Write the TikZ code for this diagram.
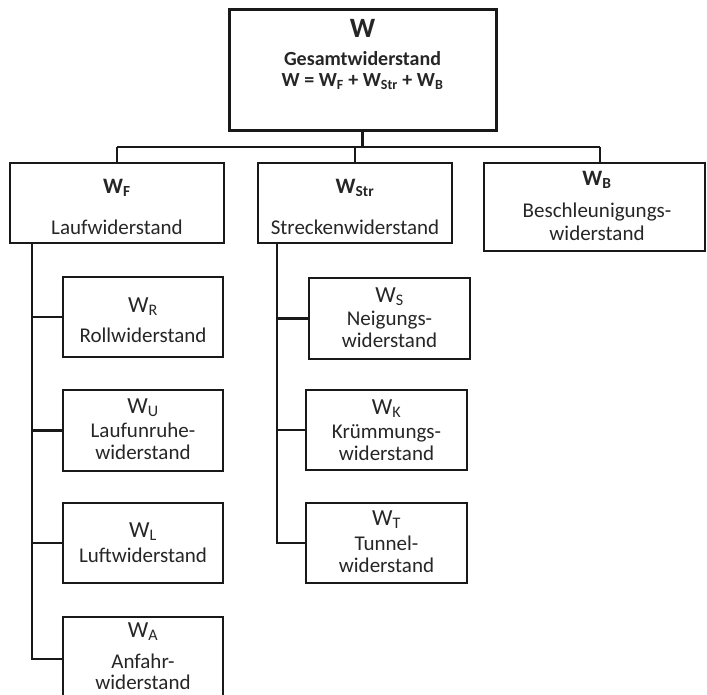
\documentclass[tikz,border=0pt]{standalone}
\usepackage{fontspec}
\setmainfont{Carlito}
\newcommand{\sbs}[1]{\textsubscript{#1}}
\begin{document}
\begin{tikzpicture}[x=1pt,y=-1pt,
  box/.style={draw=black!90, line width=2.6pt, inner sep=0pt, outer sep=0pt, fill=white},
  topbox/.style={box, line width=3pt},
  conn/.style={draw=black!90, line width=2.4pt},
  txt/.style={anchor=base, inner sep=0pt, text=black!85, font=\fontsize{21}{24}\selectfont},
  btxt/.style={txt, font=\fontsize{20}{24}\selectfont\bfseries},
  wtxt/.style={txt, font=\fontsize{23}{24}\selectfont},
  bwtxt/.style={txt, font=\fontsize{22}{24}\selectfont\bfseries}]
\useasboundingbox (0,0) rectangle (707,694);
\clip (0,0) rectangle (707,694);
\fill[white] (0,0) rectangle (707,694);
% boxes
\node[topbox, minimum width=267pt, minimum height=121pt] (top) at (362.5,69.5) {};
\node[box, minimum width=214pt, minimum height=80pt] (wf) at (117,203) {};
\node[box, minimum width=194pt, minimum height=80pt] (wstr) at (355,203) {};
\node[box, minimum width=221pt, minimum height=88pt] (wb) at (594.5,207) {};
\node[box, minimum width=160pt, minimum height=80pt] (wr) at (143,317) {};
\node[box, minimum width=160pt, minimum height=81pt] (wu) at (143,430.5) {};
\node[box, minimum width=160pt, minimum height=80pt] (wl) at (143,543) {};
\node[box, minimum width=160pt, minimum height=84pt] (wa) at (143,659) {};
\node[box, minimum width=161pt, minimum height=81pt] (ws) at (389.5,318.5) {};
\node[box, minimum width=161pt, minimum height=80pt] (wk) at (386.5,430) {};
\node[box, minimum width=161pt, minimum height=80pt] (wt) at (386.5,543) {};
% connectors
\coordinate (busL) at (117,147);
\coordinate (busR) at (600,147);
\coordinate (ls) at (32,243);
\coordinate (rs) at (277,243);
\draw[conn] (top.south) -- (top.south |- busL);
\draw[conn] (busL) -- (busR);
\draw[conn] (busL) -- (wf.north);
\draw[conn] (wstr.north |- busL) -- (wstr.north);
\draw[conn] (busR) -- (busR |- wb.north);
\draw[conn] (ls) |- (wa.west);
\draw[conn] (ls |- wr.west) -- (wr.west);
\draw[conn] (ls |- wu.west) -- (wu.west);
\draw[conn] (ls |- wl.west) -- (wl.west);
\draw[conn] (rs) |- (wt.west);
\draw[conn] (rs |- ws.west) -- (ws.west);
\draw[conn] (rs |- wk.west) -- (wk.west);
% texts
\node[txt, font=\fontsize{28}{28}\selectfont\bfseries] (top-a) at (362.5,37) {W};
\node[btxt] (top-b) at (362.5,65.5) {Gesamtwiderstand};
\node[btxt] (top-c) at (362.5,86) {W = W\sbs{F} + W\sbs{Str} + W\sbs{B}};
\node[bwtxt] (wf-a) at (117,193) {W\sbs{F}};
\node[txt] (wf-b) at (117,234) {Laufwiderstand};
\node[bwtxt] (wstr-a) at (355,193) {W\sbs{Str}};
\node[txt] (wstr-b) at (355,234) {Streckenwiderstand};
\node[bwtxt] (wb-a) at (597,185) {W\sbs{B}};
\node[txt] (wb-b) at (597,217) {Beschleunigungs-};
\node[txt] (wb-c) at (597,240) {widerstand};
\node[wtxt] (wr-a) at (143,312) {W\sbs{R}};
\node[txt] (wr-b) at (143,342) {Rollwiderstand};
\node[wtxt] (wu-a) at (143,413) {W\sbs{U}};
\node[txt] (wu-b) at (143,437) {Laufunruhe-};
\node[txt] (wu-c) at (143,459) {widerstand};
\node[wtxt] (wl-a) at (143,537) {W\sbs{L}};
\node[txt] (wl-b) at (143,562) {Luftwiderstand};
\node[wtxt] (wa-a) at (143,637) {W\sbs{A}};
\node[txt] (wa-b) at (143,668) {Anfahr-};
\node[txt] (wa-c) at (143,689) {widerstand};
\node[wtxt] (ws-a) at (389.5,302) {W\sbs{S}};
\node[txt] (ws-b) at (389.5,325) {Neigungs-};
\node[txt] (ws-c) at (389.5,347) {widerstand};
\node[wtxt] (wk-a) at (386.5,414) {W\sbs{K}};
\node[txt] (wk-b) at (386.5,438) {Krümmungs-};
\node[txt] (wk-c) at (386.5,460) {widerstand};
\node[wtxt] (wt-a) at (386.5,525) {W\sbs{T}};
\node[txt] (wt-b) at (386.5,550) {Tunnel-};
\node[txt] (wt-c) at (386.5,572) {widerstand};
\end{tikzpicture}
\end{document}
